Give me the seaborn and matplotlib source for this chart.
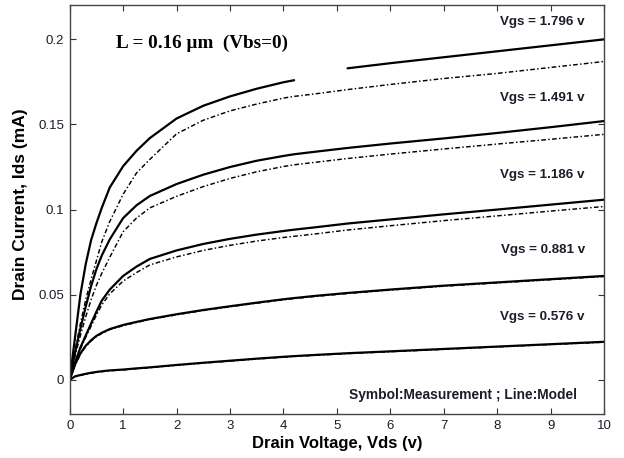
import numpy as np
import pandas as pd
import matplotlib
matplotlib.use("Agg")
import matplotlib.pyplot as plt
import seaborn as sns

# ---- data ----
vds = [0, 0.1, 0.2, 0.3, 0.4, 0.5, 0.6, 0.75, 1, 1.25, 1.5, 2, 2.5, 3, 3.5, 4,
       4.2, 4.6, 5.2, 6, 7, 8, 9, 10]

model_0576 = [0, 0.0020, 0.0028, 0.0035, 0.0041, 0.0046, 0.0050, 0.0055, 0.0060, 0.0067, 0.0073, 0.0087,
              0.0100, 0.0112, 0.0124, 0.0135, 0.0139, 0.0146, 0.0156, 0.0167, 0.0181, 0.0195, 0.0209, 0.0223]
meas_0576 = [0, 0.0018, 0.0026, 0.0033, 0.0039, 0.0044, 0.0048, 0.0053, 0.0058, 0.0065, 0.0071, 0.0085,
             0.0098, 0.0110, 0.0122, 0.0133, 0.0137, 0.0144, 0.0154, 0.0165, 0.0179, 0.0193, 0.0207, 0.0221]

model_0881 = [0, 0.0090, 0.0155, 0.0200, 0.0232, 0.0258, 0.0276, 0.0298, 0.0322, 0.0340, 0.0357, 0.0385,
              0.0410, 0.0432, 0.0453, 0.0473, 0.0480, 0.0493, 0.0510, 0.0530, 0.0553, 0.0572, 0.0591, 0.0610]
meas_0881 = [0, 0.0085, 0.0150, 0.0195, 0.0228, 0.0254, 0.0272, 0.0295, 0.0318, 0.0337, 0.0354, 0.0382,
             0.0407, 0.0429, 0.0450, 0.0470, 0.0477, 0.0490, 0.0507, 0.0527, 0.0550, 0.0569, 0.0588, 0.0607]

model_1186 = [0, 0.0100, 0.0190, 0.0260, 0.0330, 0.0400, 0.0465, 0.0530, 0.0610, 0.0665, 0.0710, 0.0760,
              0.0798, 0.0828, 0.0853, 0.0874, 0.0882, 0.0896, 0.0918, 0.0942, 0.0972, 0.1000, 0.1029, 0.1058]
meas_1186 = [0, 0.0095, 0.0180, 0.0250, 0.0315, 0.0380, 0.0440, 0.0505, 0.0580, 0.0630, 0.0675, 0.0722,
             0.0760, 0.0790, 0.0815, 0.0836, 0.0843, 0.0857, 0.0880, 0.0905, 0.0935, 0.0963, 0.0991, 0.1018]

model_1491 = [0, 0.0160, 0.0300, 0.0430, 0.0550, 0.0650, 0.0730, 0.0825, 0.0950, 0.1025, 0.1080, 0.1150,
              0.1205, 0.1250, 0.1287, 0.1315, 0.1325, 0.1340, 0.1362, 0.1388, 0.1418, 0.1450, 0.1484, 0.1520]
meas_1491 = [0, 0.0140, 0.0260, 0.0370, 0.0470, 0.0555, 0.0625, 0.0720, 0.0870, 0.0950, 0.1010, 0.1078,
             0.1135, 0.1183, 0.1222, 0.1253, 0.1263, 0.1278, 0.1300, 0.1326, 0.1356, 0.1385, 0.1413, 0.1442]

model_1796 = [0, 0.0250, 0.0500, 0.0680, 0.0820, 0.0920, 0.1010, 0.1130, 0.1255, 0.1345, 0.1420, 0.1535,
              0.1610, 0.1665, 0.1710, 0.1748, 0.1760, np.nan, 0.1830, 0.1860, 0.1895, 0.1930, 0.1965, 0.2000]
meas_1796 = [0, 0.0170, 0.0330, 0.0470, 0.0590, 0.0700, 0.0810, 0.0930, 0.1090, 0.1215, 0.1295, 0.1445,
             0.1525, 0.1580, 0.1620, 0.1655, 0.1665, 0.1680, 0.1705, 0.1735, 0.1770, 0.1800, 0.1835, 0.1870]

vgs_labels = ["Vgs = 1.796 v", "Vgs = 1.491 v", "Vgs = 1.186 v", "Vgs = 0.881 v", "Vgs = 0.576 v"]
vgs_label_y = [0.2103, 0.1655, 0.1203, 0.0762, 0.0370]

x_ticks = [0, 1, 2, 3, 4, 5, 6, 7, 8, 9, 10]
y_ticks = [0, 0.05, 0.1, 0.15, 0.2]
y_ticklabels = ["0", "0.05", "0.1", "0.15", "0.2"]

models = [model_0576, model_0881, model_1186, model_1491, model_1796]
meas = [meas_0576, meas_0881, meas_1186, meas_1491, meas_1796]

# ---- style ----
sns.set_theme(style="ticks")
plt.rcParams["font.family"] = ["Liberation Sans", "DejaVu Sans"]

fig = plt.figure(figsize=(6.24, 4.58), dpi=100)
ax = fig.add_axes([0.1117, 0.0961, 0.8563, 0.8930])

txt_col = "#1c1c2a"


def segments(xs, ys):
    xs = np.asarray(xs, float)
    ys = np.asarray(ys, float)
    ok = ~np.isnan(ys)
    runs, cur = [], []
    for i in range(len(xs)):
        if ok[i]:
            cur.append(i)
        elif cur:
            runs.append(cur)
            cur = []
    if cur:
        runs.append(cur)
    return [(xs[r], ys[r]) for r in runs]


dashdot = (0, (3.2, 1.6, 1.0, 1.6))
for yv in meas:
    for sx, sy in segments(vds, yv):
        sns.lineplot(x=sx, y=sy, ax=ax, color="black", lw=1.05, linestyle=dashdot,
                     estimator=None, sort=False)
for yv in models:
    for sx, sy in segments(vds, yv):
        sns.lineplot(x=sx, y=sy, ax=ax, color="black", lw=1.6,
                     estimator=None, sort=False)

ax.set_xlim(0, 10)
ax.set_ylim(-0.0201, 0.2202)
ax.set_xticks(x_ticks)
ax.set_yticks(y_ticks)
ax.set_yticklabels(y_ticklabels)
ax.tick_params(direction="in", length=4, width=0.8, top=True, right=True,
               labelsize=9.5, colors="#333333", labelcolor=txt_col, pad=4)
for s in ax.spines.values():
    s.set_color("#444444")
    s.set_linewidth(1.0)

ax.set_xlabel("Drain Voltage, Vds (v)", fontsize=12, fontweight="bold", color="black", labelpad=3)
ax.set_ylabel("Drain Current, Ids (mA)", fontsize=12.5, fontweight="bold", color="black")
ax.yaxis.set_label_coords(-0.078, 0.513)

for lab, yy in zip(vgs_labels, vgs_label_y):
    ax.text(9.64, yy, lab, ha="right", va="center", fontsize=9.6, fontweight="bold", color=txt_col)

ax.text(5.23, -0.009, "Symbol:Measurement ; Line:Model", ha="left", va="center",
        fontsize=9.9, fontweight="bold", color=txt_col)

ax.text(0.87, 0.1978, "L = 0.16 µm  (Vbs=0)", ha="left", va="center", fontsize=13.8,
        fontweight="bold", family=["Liberation Serif", "DejaVu Serif"], color="black")

fig.savefig("out.png", dpi=100)
